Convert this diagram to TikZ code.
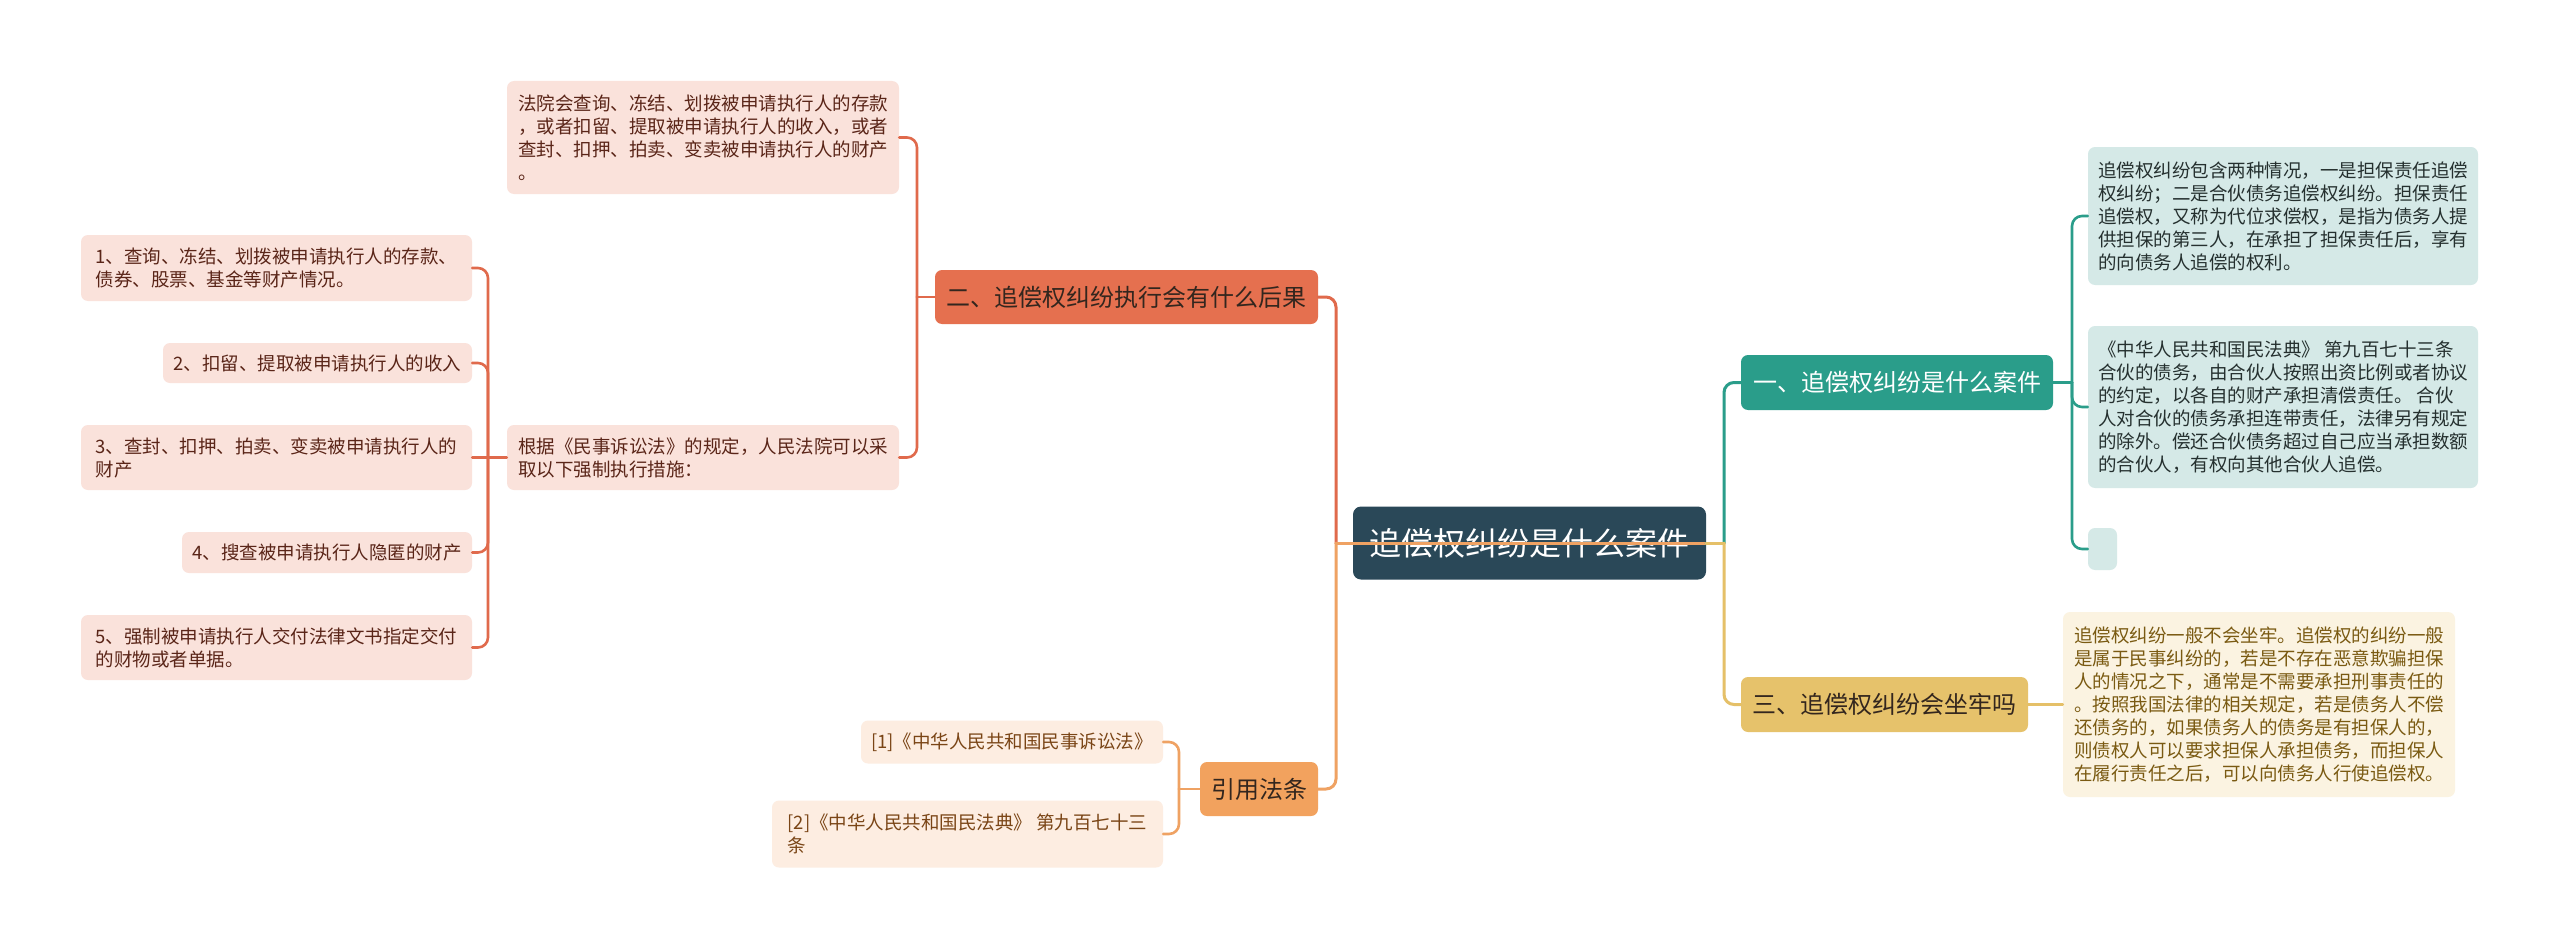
\documentclass[tikz,border=0pt]{standalone}
\usepackage{fontspec}
\newfontfamily\cjk{Noto Sans CJK SC}
\usetikzlibrary{calc}
\definecolor{rootfill}{HTML}{2A4858}
\definecolor{redfill}{HTML}{E5704F}
\definecolor{redline}{HTML}{E06A4C}
\definecolor{pinkfill}{HTML}{FAE2DB}
\definecolor{pinktext}{HTML}{5A2518}
\definecolor{orfill}{HTML}{F2A25E}
\definecolor{orline}{HTML}{EFA263}
\definecolor{peachfill}{HTML}{FDEDE1}
\definecolor{peachtext}{HTML}{7A4516}
\definecolor{tealfill}{HTML}{2A9D8A}
\definecolor{tealline}{HTML}{2A9D8A}
\definecolor{mintfill}{HTML}{D5E9E7}
\definecolor{minttext}{HTML}{25302F}
\definecolor{goldfill}{HTML}{E6C26B}
\definecolor{goldline}{HTML}{E5C068}
\definecolor{creamfill}{HTML}{FBF3E1}
\definecolor{creamtext}{HTML}{7A5A12}
\definecolor{darktext}{HTML}{33261E}
\begin{document}
\begin{tikzpicture}[x=1pt,y=-1pt,
  box/.style={rounded corners=7pt, inner sep=0pt, align=left, font=\cjk\fontsize{18.5}{23}\selectfont},
  pinkbox/.style={box, fill=pinkfill, text=pinktext},
  peachbox/.style={box, fill=peachfill, text=peachtext},
  mintbox/.style={box, fill=mintfill, text=minttext},
  creambox/.style={box, fill=creamfill, text=creamtext},
  branch/.style={rounded corners=7pt, inner sep=0pt, align=center, font=\cjk\fontsize{24}{28}\selectfont},
  mainline/.style={line width=3pt, line cap=round},
  subline/.style={line width=2.6pt, line cap=round},
  rc/.style={rounded corners=10pt}]
\useasboundingbox[fill=white] (0,0) rectangle (2560,950);

% root
\node[rounded corners=8pt, fill=rootfill, text=white, inner sep=0pt, minimum width=353pt, minimum height=73pt, font=\cjk\fontsize{32}{36}\selectfont] (root) at (1529.5,543) {追偿权纠纷是什么案件};

% branches
\node[branch, fill=redfill, text=darktext, minimum width=383pt, minimum height=54pt] (b2) at (1126.5,297) {二、追偿权纠纷执行会有什么后果};
\node[branch, fill=orfill, text=darktext, minimum width=118pt, minimum height=54pt] (cite) at (1259,789) {引用法条};
\node[branch, fill=tealfill, text=white, minimum width=312pt, minimum height=55pt] (b1) at (1897,382.5) {一、追偿权纠纷是什么案件};
\node[branch, fill=goldfill, text=darktext, minimum width=287pt, minimum height=55pt] (b3) at (1884.5,704.5) {三、追偿权纠纷会坐牢吗};

% children of 二
\node[pinkbox, minimum width=392pt, minimum height=113pt] (n21) at (703,137.5) {法院会查询、冻结、划拨被申请执行人的存款\\，或者扣留、提取被申请执行人的收入，或者\\查封、扣押、拍卖、变卖被申请执行人的财产\\。};
\node[pinkbox, minimum width=392pt, minimum height=65pt] (n22) at (703,457.5) {根据《民事诉讼法》的规定，人民法院可以采\\取以下强制执行措施：};

\node[pinkbox, minimum width=391pt, minimum height=66pt] (c1) at (276.5,268) {1、查询、冻结、划拨被申请执行人的存款、\\债券、股票、基金等财产情况。};
\node[pinkbox, minimum width=309pt, minimum height=40pt] (c2) at (317.5,363) {2、扣留、提取被申请执行人的收入};
\node[pinkbox, minimum width=391pt, minimum height=65pt] (c3) at (276.5,457.5) {3、查封、扣押、拍卖、变卖被申请执行人的\\财产};
\node[pinkbox, minimum width=290pt, minimum height=41pt] (c4) at (327,552.5) {4、搜查被申请执行人隐匿的财产};
\node[pinkbox, minimum width=391pt, minimum height=65pt] (c5) at (276.5,647.5) {5、强制被申请执行人交付法律文书指定交付\\的财物或者单据。};

% children of 引用法条
\node[peachbox, minimum width=302pt, minimum height=43pt] (r1) at (1012,742) {[1]《中华人民共和国民事诉讼法》};
\node[peachbox, minimum width=391pt, minimum height=67pt] (r2) at (967.5,834) {[2]《中华人民共和国民法典》 第九百七十三\\条};

% children of 一
\node[mintbox, minimum width=390pt, minimum height=138pt] (a1) at (2283,216) {追偿权纠纷包含两种情况，一是担保责任追偿\\权纠纷；二是合伙债务追偿权纠纷。担保责任\\追偿权，又称为代位求偿权，是指为债务人提\\供担保的第三人，在承担了担保责任后，享有\\的向债务人追偿的权利。};
\node[mintbox, minimum width=390pt, minimum height=162pt] (a2) at (2283,407) {《中华人民共和国民法典》 第九百七十三条\\合伙的债务，由合伙人按照出资比例或者协议\\的约定，以各自的财产承担清偿责任。 合伙\\人对合伙的债务承担连带责任，法律另有规定\\的除外。偿还合伙债务超过自己应当承担数额\\的合伙人，有权向其他合伙人追偿。};
\node[mintbox, minimum width=29pt, minimum height=42pt] (a3) at (2102.5,549) {};

% child of 三
\node[creambox, minimum width=392pt, minimum height=185pt] (t1) at (2259,704.5) {追偿权纠纷一般不会坐牢。追偿权的纠纷一般\\是属于民事纠纷的，若是不存在恶意欺骗担保\\人的情况之下，通常是不需要承担刑事责任的\\。按照我国法律的相关规定，若是债务人不偿\\还债务的，如果债务人的债务是有担保人的，\\则债权人可以要求担保人承担债务，而担保人\\在履行责任之后，可以向债务人行使追偿权。};

% trunk coordinates
\coordinate (tL) at (1336,0);
\coordinate (tR) at (1724,0);
\coordinate (t2) at (917,0);
\coordinate (t3) at (488,0);
\coordinate (tc) at (1179,0);
\coordinate (t4) at (2072,0);

% root connectors
\draw[mainline, redline] (root.east) -- (root.east -| tL);
\draw[mainline, redline, rc] (root.east -| tL) |- (b2.east);
\draw[mainline, orline] (root.east) -- (root.east -| tL);
\draw[mainline, orline, rc] (root.east -| tL) |- (cite.east);
\draw[mainline, tealline] (root.east) -- (root.east -| tR);
\draw[mainline, tealline, rc] (root.east -| tR) |- (b1.west);
\draw[mainline, goldline] (root.east) -- (root.east -| tR);
\draw[mainline, goldline, rc] (root.east -| tR) |- (b3.west);

% 二 connectors
\draw[subline, redline] (b2.west) -- (b2.west -| t2);
\draw[subline, redline, rc] (b2.west -| t2) |- (n21.east);
\draw[subline, redline, rc] (b2.west -| t2) |- (n22.east);

% n22 connectors
\draw[subline, redline] (n22.west) -- (c3.east);
\draw[subline, redline, rc] (n22.west -| t3) |- (c1.east);
\draw[subline, redline, rc] (n22.west -| t3) |- (c2.east);
\draw[subline, redline, rc] (n22.west -| t3) |- (c4.east);
\draw[subline, redline, rc] (n22.west -| t3) |- (c5.east);

% 引用 connectors
\draw[subline, orline] (cite.west) -- (cite.west -| tc);
\draw[subline, orline, rc] (cite.west -| tc) |- (r1.east);
\draw[subline, orline, rc] (cite.west -| tc) |- (r2.east);

% 一 connectors
\draw[subline, tealline] (b1.east) -- (b1.east -| t4);
\draw[subline, tealline, rc] (b1.east -| t4) |- (a1.west);
\draw[subline, tealline, rc] (b1.east -| t4) |- (a2.west);
\draw[subline, tealline, rc] (b1.east -| t4) |- (a3.west);

% 三 connector
\draw[subline, goldline] (b3.east) -- (t1.west);
\end{tikzpicture}
\end{document}
